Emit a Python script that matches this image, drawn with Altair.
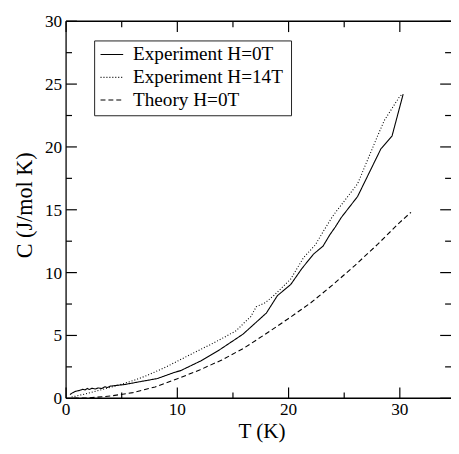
import altair as alt
import pandas as pd

# ---------------- data ----------------
series_names = ["Experiment H=0T", "Experiment H=14T", "Theory H=0T"]

T_h0 = [0.35, 0.6, 0.85, 1.2, 1.5, 1.7, 1.9, 2.1, 2.3, 2.6, 2.9, 3.2, 3.5, 3.7, 4.0,
        5.3, 6.5, 8.2, 9.8, 10.3, 12.1, 13.8, 15.9, 18.0, 19.0, 20.2, 21.2,
        22.24, 23.1, 23.7, 24.2, 24.75, 26.2, 28.3, 29.3, 30.3]
C_h0 = [0.3, 0.45, 0.55, 0.62, 0.72, 0.66, 0.78, 0.7, 0.8, 0.74, 0.82, 0.78, 0.92, 0.86, 0.97,
        1.1, 1.3, 1.57, 2.08, 2.2, 2.97, 3.86, 5.1, 6.78, 8.17, 9.06, 10.33,
        11.47, 12.11, 13.0, 13.63, 14.4, 16.05, 19.85, 20.87, 24.2]

T_h14 = [0.5, 1.5, 3.0, 4.0, 5.0, 6.0, 7.0, 8.0, 9.0, 10.0, 11.0, 12.0, 12.9, 14.0,
         15.3, 16.0, 16.6, 17.1, 17.9, 18.7, 19.4, 20.2, 21.35, 22.4, 23.1, 23.9,
         24.2, 26.2, 28.0, 28.6, 29.9, 30.2]
C_h14 = [0.1, 0.3, 0.65, 0.88, 1.12, 1.4, 1.72, 2.1, 2.5, 2.95, 3.4, 3.85, 4.24, 4.75,
         5.38, 6.0, 6.5, 7.29, 7.6, 8.2, 8.8, 9.5, 11.2, 12.2, 13.25, 14.4,
         14.77, 17.06, 20.87, 22.1, 23.9, 24.2]

T_th = [0.7, 2.0, 4.0, 6.0, 8.0, 10.0, 12.0, 14.0, 16.0, 18.0, 20.0, 22.0, 24.0,
        26.0, 28.0, 30.0, 31.0]
C_th = [0.0, 0.03, 0.18, 0.45, 0.9, 1.55, 2.25, 3.05, 4.0, 5.15, 6.35, 7.6, 9.05,
        10.6, 12.25, 14.0, 14.8]

x_major = [0, 10, 20, 30]
x_minor = [5, 15, 25]
y_major = [0, 5, 10, 15, 20, 25, 30]
y_minor = [2.5, 7.5, 12.5, 17.5, 22.5, 27.5]
x_title = "T (K)"
y_title = "C (J/mol K)"

# ---------------- build table ----------------
rows = []
for name, ts, cs in zip(series_names, [T_h0, T_h14, T_th], [C_h0, C_h14, C_th]):
    for i, (t, c) in enumerate(zip(ts, cs)):
        rows.append({"series": name, "T": t, "C": c, "order": i})
df = pd.DataFrame(rows)

W, H = 391, 383
TOP = 10
FONT = "Liberation Serif"
INK = "#000000"
LABEL_FS = 17.5
TITLE_FS = 21.5

xscale = alt.Scale(domain=[0, 34.6], nice=False, zero=False)
yscale = alt.Scale(domain=[0, 30], nice=False, zero=False)
dash_scale = alt.Scale(domain=series_names, range=[[1, 0], [1, 2], [5, 3]])

lines = alt.Chart(df).mark_line(color=INK, strokeWidth=1.1, clip=True).encode(
    x=alt.X("T:Q", scale=xscale, axis=None),
    y=alt.Y("C:Q", scale=yscale, axis=None),
    strokeDash=alt.StrokeDash("series:N", scale=dash_scale, legend=None),
    order=alt.Order("order:Q"),
)

one = pd.DataFrame({"k": [0]})
layers = [lines]

# frame (left, top, bottom)
layers.append(alt.Chart(one).mark_rule(color=INK, strokeWidth=1.3).encode(
    x=alt.value(0), y=alt.value(0), y2=alt.value(H)))
layers.append(alt.Chart(one).mark_rule(color=INK, strokeWidth=1.3).encode(
    x=alt.value(0), x2=alt.value(W), y=alt.value(0)))
layers.append(alt.Chart(one).mark_rule(color=INK, strokeWidth=1.6).encode(
    x=alt.value(0), x2=alt.value(W), y=alt.value(H)))


def xticks(vals, length, side):
    d = pd.DataFrame({"T": vals})
    if side == "bottom":
        y0, y1 = H, H - length
    else:
        y0, y1 = 0, length
    return alt.Chart(d).mark_rule(color=INK, strokeWidth=1.2).encode(
        x=alt.X("T:Q", scale=xscale, axis=None), y=alt.value(y0), y2=alt.value(y1))


def yticks(vals, length, side):
    d = pd.DataFrame({"C": vals})
    if side == "left":
        x0, x1 = 0, length
    else:
        x0, x1 = W, W - length
    return alt.Chart(d).mark_rule(color=INK, strokeWidth=1.2).encode(
        y=alt.Y("C:Q", scale=yscale, axis=None), x=alt.value(x0), x2=alt.value(x1))


layers += [
    xticks(x_major, 11, "bottom"), xticks(x_minor, 6, "bottom"),
    xticks(x_major, 11, "top"), xticks(x_minor, 6, "top"),
    yticks(y_major, 11, "left"), yticks(y_minor, 6, "left"),
    yticks(y_major, 11, "right"), yticks(y_minor, 6, "right"),
]

# tick labels (serif text)
layers.append(alt.Chart(pd.DataFrame({"T": x_major})).mark_text(
    font=FONT, fontSize=LABEL_FS, color=INK, align="center", baseline="alphabetic").encode(
    x=alt.X("T:Q", scale=xscale, axis=None), y=alt.value(H + 17),
    text=alt.Text("T:Q", format="d")))
layers.append(alt.Chart(pd.DataFrame({"C": y_major})).mark_text(
    font=FONT, fontSize=LABEL_FS, color=INK, align="right", baseline="alphabetic", dy=6).encode(
    y=alt.Y("C:Q", scale=yscale, axis=None), x=alt.value(-4),
    text=alt.Text("C:Q", format="d")))

# axis titles
layers.append(alt.Chart(one).mark_text(
    font=FONT, fontSize=TITLE_FS, color=INK, align="center", baseline="alphabetic").encode(
    x=alt.value(199), y=alt.value(H + 40), text=alt.value(x_title)))
layers.append(alt.Chart(one).mark_text(
    font=FONT, fontSize=TITLE_FS + 1, color=INK, align="center", baseline="middle", angle=270).encode(
    x=alt.value(-42), y=alt.value(187), text=alt.value(y_title)))

# legend box
layers.append(alt.Chart(one).mark_rect(fill="white", stroke="#222222", strokeWidth=1).encode(
    x=alt.value(29), x2=alt.value(229), y=alt.value(20), y2=alt.value(96)))
row_y = [33.7, 57, 80]
dashes = [[1, 0], [1, 2], [5, 3]]
for name, ry, dsh in zip(series_names, row_y, dashes):
    layers.append(alt.Chart(one).mark_rule(color=INK, strokeWidth=1.1, strokeDash=dsh).encode(
        x=alt.value(35), x2=alt.value(58), y=alt.value(ry)))
    layers.append(alt.Chart(one).mark_text(align="left", baseline="middle", font=FONT,
                                           fontSize=19.5, color=INK).encode(
        x=alt.value(68), y=alt.value(ry), text=alt.value(name)))

chart = alt.layer(*layers).properties(
    width=W, height=H,
    padding={"left": 59, "top": TOP, "right": 0, "bottom": 45},
    autosize=alt.AutoSizeParams(type="none"),
    background="white",
).configure_view(stroke=None).configure_text(font=FONT)

chart.save("out.html", embed_options={"renderer": "svg", "actions": False})
